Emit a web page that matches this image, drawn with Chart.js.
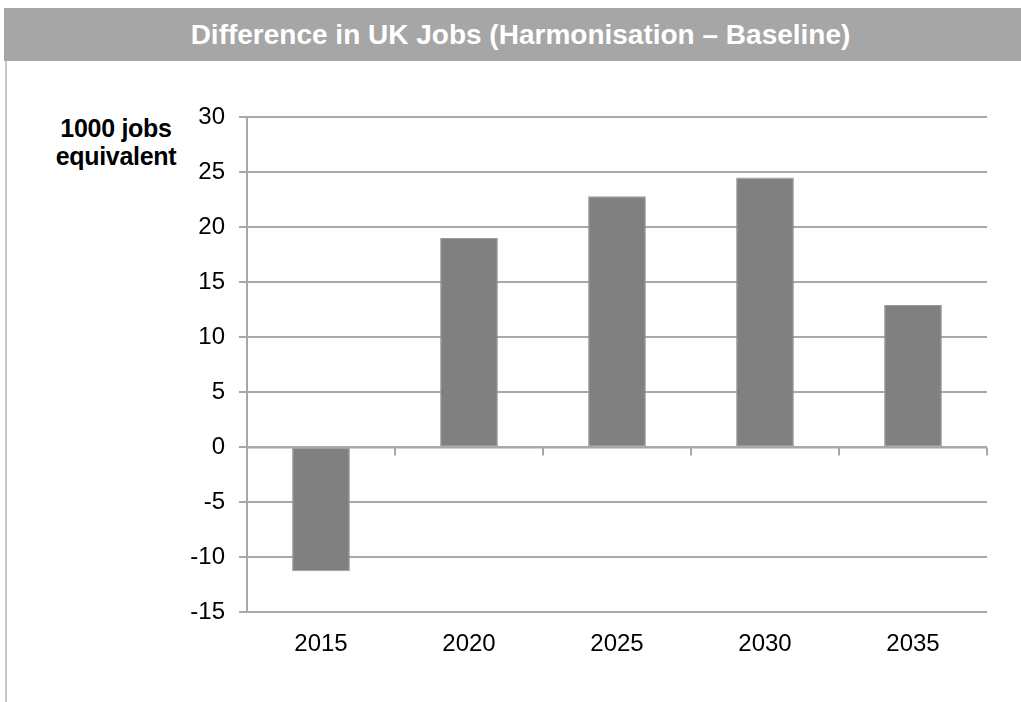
<!DOCTYPE html>
<html>
<head>
<meta charset="utf-8">
<script src="https://cdn.jsdelivr.net/npm/chart.js@4"></script>
<style>
  html, body { margin: 0; padding: 0; background: #fff; }
  body { width: 1021px; height: 702px; position: relative; overflow: hidden;
         font-family: "Liberation Sans", Arial, sans-serif; }
  #header { position: absolute; left: 4px; right: 0; top: 8px; height: 53px;
            background: #a6a6a6; color: #fff; font-weight: bold; font-size: 28px;
            line-height: 53px; text-align: center; padding-left: 16px; box-sizing: border-box; }
  #frame { position: absolute; left: 5px; top: 61px; width: 2px; height: 641px; background: #c8c8c8; }
  #ytitle { position: absolute; left: 40px; width: 152px; top: 114px; text-align: center;
            font-weight: bold; font-size: 25px; line-height: 28px; color: #000; letter-spacing: -0.3px; }
  #wrap { position: absolute; left: 0; top: 0; width: 1021px; height: 702px; }
</style>
</head>
<body>
<div id="header">Difference in UK Jobs (Harmonisation – Baseline)</div>
<div id="frame"></div>
<div id="ytitle">1000 jobs<br>equivalent</div>
<div id="wrap"><canvas id="chartJobs"></canvas></div>
<script>
// Difference in UK jobs, thousands, harmonisation minus baseline
const years   = ['2015', '2020', '2025', '2030', '2035'];
const jobDiff = [-11.3, 19.0, 22.8, 24.5, 12.9];
const yTicks  = [-15, -10, -5, 0, 5, 10, 15, 20, 25, 30];

const GRID = '#a8a8a8';

// Zero line with category tick marks hanging below it
const zeroAxis = {
  id: 'zeroAxis',
  afterDatasetsDraw(chart) {
    const { ctx, scales: { x, y } } = chart;
    const y0 = Math.round(y.getPixelForValue(0)) + 0.5;
    const step = (x.right - x.left) / years.length;
    ctx.save();
    ctx.strokeStyle = GRID;
    ctx.lineWidth = 2;
    ctx.beginPath();
    ctx.moveTo(x.left, y0);
    ctx.lineTo(x.right, y0);
    for (let i = 0; i <= years.length; i++) {
      const px = Math.round(x.left + i * step);
      ctx.moveTo(px, y0);
      ctx.lineTo(px, y0 + 8);
    }
    ctx.stroke();
    ctx.restore();
  },
};

new Chart(document.getElementById('chartJobs'), {
  type: 'bar',
  data: {
    labels: years,
    datasets: [{
      data: jobDiff,
      backgroundColor: '#808080',
      borderColor: '#9a9a9a',
      borderWidth: 1,
      borderSkipped: false,
      categoryPercentage: 0.39,
      barPercentage: 1,
    }],
  },
  options: {
    responsive: true,
    maintainAspectRatio: false,
    animation: false,
    layout: { padding: { left: 0, top: 117, right: 34, bottom: 0 } },
    plugins: { legend: { display: false }, tooltip: { enabled: false } },
    scales: {
      x: {
        grid: { display: false, drawTicks: false },
        border: { display: false },
        ticks: { color: '#000', font: { family: 'Liberation Sans', size: 24 }, padding: 18, maxRotation: 0 },
        afterFit: s => { s.height = 90; },
      },
      y: {
        min: -15, max: 30,
        afterBuildTicks: s => { s.ticks = yTicks.map(v => ({ value: v })); },
        grid: { color: GRID, lineWidth: 2, tickLength: 8, tickColor: GRID },
        border: { color: GRID, width: 2 },
        ticks: { color: '#000', font: { family: 'Liberation Sans', size: 24 }, padding: 14 },
        afterFit: s => { s.width = 247; },
      },
    },
  },
  plugins: [zeroAxis],
});
</script>
</body>
</html>
